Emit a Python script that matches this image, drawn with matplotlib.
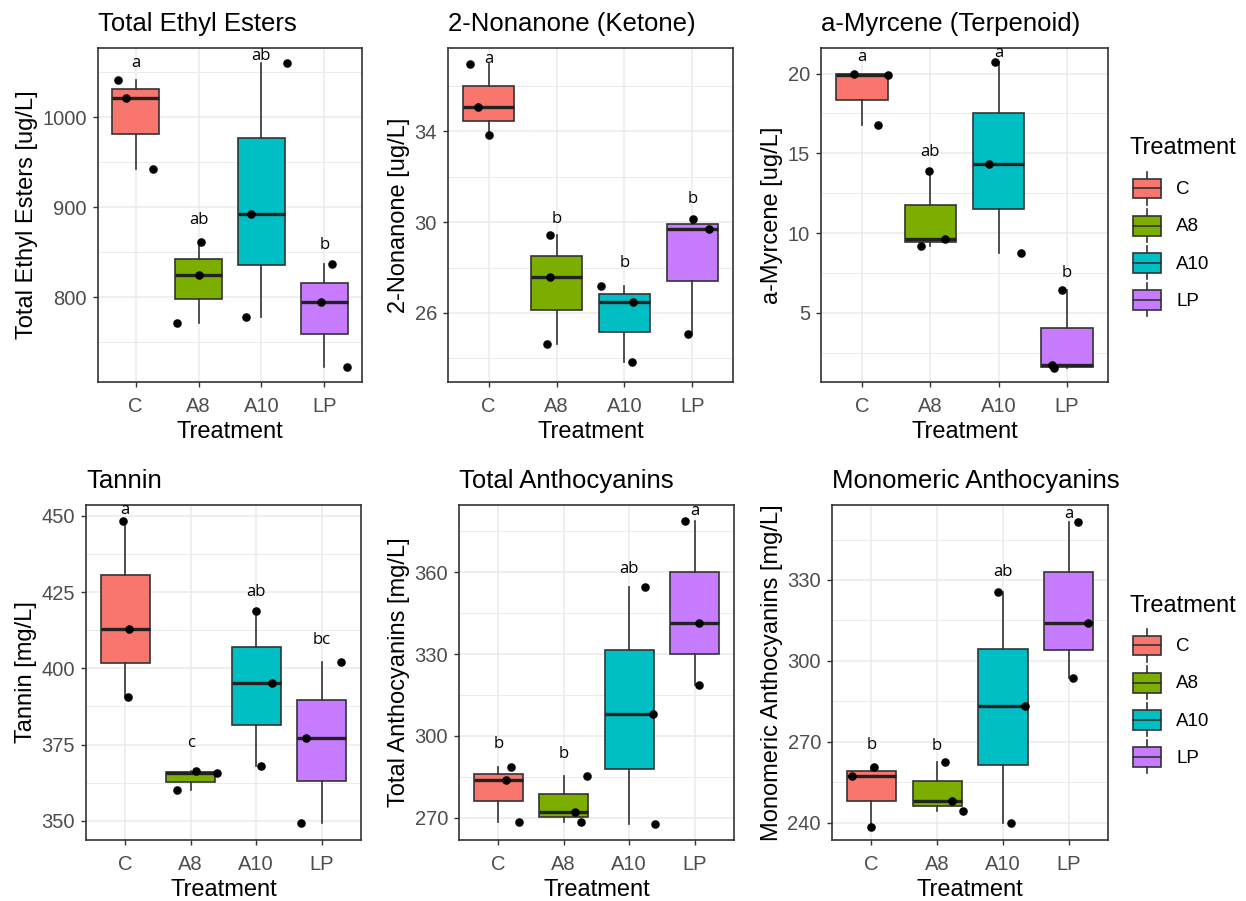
import numpy as np
import matplotlib
matplotlib.use('Agg')
import matplotlib.pyplot as plt
from matplotlib.patches import Patch, Rectangle
from matplotlib.lines import Line2D
from matplotlib.legend_handler import HandlerBase

plt.rcParams['font.family'] = ['Liberation Sans', 'DejaVu Sans']

# Treatment groups and ggplot default hue colours
treatments = ['C', 'A8', 'A10', 'LP']
colors = ['#F8766D', '#7CAE00', '#00BFC4', '#C77CFF']

# Three replicate values per treatment
ethyl_esters = [[1042, 1021, 943], [861, 825, 772], [1060, 893, 778], [837, 795, 723]]
nonanone = [[36.95, 35.07, 33.85], [29.45, 27.6, 24.65], [27.17, 26.5, 23.83], [30.14, 29.72, 25.08]]
myrcene = [[20.0, 19.9, 16.77], [13.86, 9.65, 9.2], [20.7, 14.3, 8.75], [6.4, 1.7, 1.55]]
tannin = [[448.4, 413.0, 390.5], [366.2, 365.7, 360.0], [418.9, 395.1, 368.0], [402.1, 377.2, 349.2]]
total_antho = [[288.4, 283.9, 268.3], [285.3, 272.0, 268.5], [354.5, 308.2, 267.5], [379.0, 341.3, 318.5]]
mono_antho = [[260.7, 257.4, 238.6], [262.4, 248.2, 244.5], [325.7, 283.2, 239.8], [351.6, 314.1, 293.8]]

# horizontal jitter of the points, as seen in the figure
ethyl_jit = [[-0.28, -0.16, 0.28], [0.04, 0.01, -0.34], [0.40, -0.16, -0.24], [0.13, -0.06, 0.36]]
nonanone_jit = [[-0.28, -0.16, 0.01], [-0.10, -0.09, -0.14], [-0.35, 0.12, 0.11], [0.01, 0.25, -0.07]]
myrcene_jit = [[-0.11, 0.38, 0.23], [-0.02, 0.21, -0.14], [-0.06, -0.14, 0.32], [-0.07, -0.22, -0.19]]
tannin_jit = [[-0.03, 0.06, 0.04], [0.08, 0.40, -0.21], [0.0, 0.24, 0.08], [0.29, -0.24, -0.31]]
total_antho_jit = [[0.19, 0.12, 0.31], [0.36, 0.17, 0.26], [0.24, 0.37, 0.40], [-0.15, 0.07, 0.07]]
mono_antho_jit = [[0.04, -0.30, 0.0], [0.12, 0.22, 0.39], [-0.07, 0.34, 0.13], [0.15, 0.29, 0.07]]

# significance letters and their heights
ethyl_letters = ['a', 'ab', 'ab', 'b']
ethyl_letter_y = [1060, 886, 1068, 858]
nonanone_letters = ['a', 'b', 'b', 'b']
nonanone_letter_y = [37.19, 30.12, 28.19, 31.0]
myrcene_letters = ['a', 'ab', 'a', 'b']
myrcene_letter_y = [21.05, 15.07, 21.3, 7.5]
tannin_letters = ['a', 'c', 'ab', 'bc']
tannin_letter_y = [452, 375.4, 425.2, 409.3]
total_antho_letters = ['b', 'b', 'ab', 'a']
total_antho_letter_y = [296.9, 293.4, 361.2, 382.6]
mono_antho_letters = ['b', 'b', 'ab', 'a']
mono_antho_letter_y = [268.9, 268.5, 332.8, 354.5]

W, H = 1246, 901
DARK = '#333333'

panels = [
    # title, ylabel, data, jitter, letters, letter y, ylim, major, minor, pixel box (l, r, t, b)
    ('Total Ethyl Esters', 'Total Ethyl Esters [ug/L]', ethyl_esters, ethyl_jit, ethyl_letters, ethyl_letter_y,
     (706, 1077), [800, 900, 1000], [750, 850, 950, 1050], (98, 362, 48, 382)),
    ('2-Nonanone (Ketone)', '2-Nonanone [ug/L]', nonanone, nonanone_jit, nonanone_letters, nonanone_letter_y,
     (22.96, 37.67), [26, 30, 34], [24, 28, 32, 36], (448, 733, 48, 382)),
    ('a-Myrcene (Terpenoid)', 'a-Myrcene [ug/L]', myrcene, myrcene_jit, myrcene_letters, myrcene_letter_y,
     (0.66, 21.6), [5, 10, 15, 20], [2.5, 7.5, 12.5, 17.5], (821, 1108, 48, 382)),
    ('Tannin', 'Tannin [mg/L]', tannin, tannin_jit, tannin_letters, tannin_letter_y,
     (343.7, 453.6), [350, 375, 400, 425, 450], [362.5, 387.5, 412.5, 437.5], (86, 361, 505, 840)),
    ('Total Anthocyanins', 'Total Anthocyanins [mg/L]', total_antho, total_antho_jit, total_antho_letters,
     total_antho_letter_y, (261.8, 384.7), [270, 300, 330, 360], [285, 315, 345, 375], (459, 734, 505, 840)),
    ('Monomeric Anthocyanins', 'Monomeric Anthocyanins [mg/L]', mono_antho, mono_antho_jit, mono_antho_letters,
     mono_antho_letter_y, (233.6, 357.8), [240, 270, 300, 330], [255, 285, 315, 345], (832, 1108, 505, 840)),
]

fig = plt.figure(figsize=(W / 100, H / 100), dpi=100, facecolor='white')

pos = np.arange(1, len(treatments) + 1)
for title, ylabel, data, jit, letters, letter_y, ylim, major, minor, (l, r, t, b) in panels:
    ax = fig.add_axes([l / W, 1 - b / H, (r - l) / W, (b - t) / H])
    ax.set_axisbelow(True)

    bp = ax.boxplot(data, positions=pos, widths=0.75, whis=(0, 100), patch_artist=True,
                    showcaps=False, showfliers=False,
                    boxprops=dict(edgecolor=DARK, linewidth=1.2),
                    whiskerprops=dict(color=DARK, linewidth=1.2),
                    medianprops=dict(color='#222222', linewidth=2.4))
    for patch, c in zip(bp['boxes'], colors):
        patch.set_facecolor(c)

    for i, (vals, offs) in enumerate(zip(data, jit)):
        ax.scatter(pos[i] + np.array(offs), vals, s=38, color='black', zorder=5, linewidths=0)
        ax.text(pos[i], letter_y[i], letters[i], ha='center', va='center', fontsize=12,
                family=['Open Sans', 'DejaVu Sans'], color='black', zorder=6)

    ax.set_xlim(0.4, 4.6)
    ax.set_ylim(*ylim)
    ax.set_yticks(major)
    ax.set_yticks(minor, minor=True)
    ax.set_xticks(pos, treatments)
    ax.grid(which='major', color='#EBEBEB', lw=1.1)
    ax.grid(which='minor', axis='y', color='#EBEBEB', lw=0.7)
    ax.tick_params(which='minor', length=0)
    ax.tick_params(which='major', length=3.5, width=1, color=DARK, labelsize=14.5, labelcolor='#4D4D4D')
    ax.tick_params(axis='x', pad=7)
    ax.tick_params(axis='y', pad=4.5)
    for s in ax.spines.values():
        s.set_color(DARK)
        s.set_linewidth(1.2)

    ax.set_title(title, loc='left', fontsize=18.5, pad=12, color='black')
    ax.set_ylabel(ylabel, fontsize=17, labelpad=3)
    ax.set_xlabel('Treatment', fontsize=17, labelpad=4)


class BoxKeyHandler(HandlerBase):
    def create_artists(self, legend, orig_handle, xdescent, ydescent, width, height, fontsize, trans):
        x0, y0 = -xdescent, -ydescent
        cx = x0 + width / 2
        lw = 1.2
        bot = Line2D([cx, cx], [y0, y0 + 0.2 * height], color=DARK, lw=lw, transform=trans)
        top = Line2D([cx, cx], [y0 + 0.8 * height, y0 + height], color=DARK, lw=lw, transform=trans)
        box = Rectangle((x0, y0 + 0.2 * height), width, 0.6 * height, facecolor=orig_handle.get_facecolor(),
                        edgecolor=DARK, lw=lw, transform=trans)
        med = Line2D([x0, x0 + width], [y0 + 0.5 * height] * 2, color=DARK, lw=lw, transform=trans)
        return [bot, top, box, med]


handles = [Patch(facecolor=c) for c in colors]
# (legend title centre, top of first key) in pixels
for title_y, keys_top in ((148, 172), (606, 629)):
    fig.text(1130 / W, 1 - title_y / H, 'Treatment', ha='left', va='center', fontsize=17)
    fig.legend(handles, treatments, loc='upper left',
               bbox_to_anchor=(1133 / W, 1 - keys_top / H), frameon=False, fontsize=13.5,
               handlelength=1.5, handleheight=2.33, labelspacing=0.22,
               handletextpad=0.8, borderpad=0, borderaxespad=0,
               handler_map={Patch: BoxKeyHandler()})

fig.savefig('out.png', dpi=100, facecolor='white')
